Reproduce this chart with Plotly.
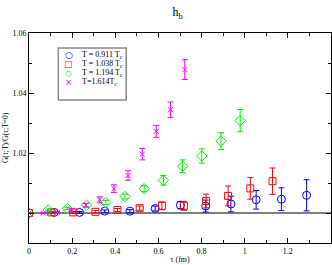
import plotly.graph_objects as go

# ---- data ----
tau_0911 = [0.0, 0.117, 0.234, 0.351, 0.468, 0.585, 0.702, 0.819, 0.936, 1.053, 1.170, 1.287]
g_0911 = [1.0, 1.0002, 1.0002, 1.0006, 1.0006, 1.0015, 1.0026, 1.0023, 1.0030, 1.0044, 1.0046, 1.0059]
e_0911 = [0.0, 0.0002, 0.0003, 0.0004, 0.0005, 0.0008, 0.0012, 0.0020, 0.0026, 0.0031, 0.0038, 0.0052]

tau_1038 = [0.0, 0.103, 0.205, 0.308, 0.410, 0.513, 0.616, 0.718, 0.821, 0.923, 1.026, 1.129]
g_1038 = [1.0, 1.0002, 1.0002, 1.0004, 1.0010, 1.0016, 1.0024, 1.0024, 1.0040, 1.0057, 1.0082, 1.0106]
e_1038 = [0.0, 0.0002, 0.0003, 0.0004, 0.0005, 0.0007, 0.0013, 0.0015, 0.0023, 0.0033, 0.0036, 0.0044]

tau_1194 = [0.0, 0.089, 0.178, 0.267, 0.356, 0.445, 0.534, 0.623, 0.712, 0.801, 0.890, 0.979]
g_1194 = [1.0, 1.0010, 1.0015, 1.0026, 1.0035, 1.0055, 1.0081, 1.0109, 1.0156, 1.0190, 1.0240, 1.0308]
e_1194 = [0.0, 0.0003, 0.0004, 0.0006, 0.0007, 0.0008, 0.0010, 0.0016, 0.0021, 0.0024, 0.0028, 0.0037]

tau_1614 = [0.0, 0.066, 0.131, 0.197, 0.263, 0.328, 0.394, 0.459, 0.525, 0.590, 0.656, 0.722]
g_1614 = [1.0, 1.0000, 1.0002, 1.0010, 1.0026, 1.0044, 1.0081, 1.0125, 1.0196, 1.0272, 1.0344, 1.0478]
e_1614 = [0.0, 0.0002, 0.0003, 0.0004, 0.0006, 0.0010, 0.0013, 0.0016, 0.0019, 0.0020, 0.0026, 0.0033]

legend_labels = ["T = 0.911 T<sub>c</sub>", "T = 1.038 T<sub>c</sub>",
                 "T = 1.194 T<sub>c</sub>", "T=1.614T<sub>c</sub>"]
legend_glyphs = ["○", "□", "◇", "×"]

x_ticks = [0, 0.2, 0.4, 0.6, 0.8, 1.0, 1.2]
x_ticktext = ["0", "0.2", "0.4", "0.6", "0.8", "1", "1.2"]
y_ticks = [1.00, 1.02, 1.04, 1.06]
y_ticktext = ["", "1.02", "1.04", "1.06"]

colors = ["#0000ff", "#ff0000", "#00ee00", "#ff00ff"]
symbols = ["circle-open", "square-open", "diamond-open", "x-thin-open"]
sizes = [8, 7, 8, 5]

series = [(tau_0911, g_0911, e_0911), (tau_1038, g_1038, e_1038),
          (tau_1194, g_1194, e_1194), (tau_1614, g_1614, e_1614)]

FONT = "Liberation Serif"
fig = go.Figure()
for (x, y, e), c, s, sz in zip(series, colors, symbols, sizes):
    fig.add_trace(go.Scatter(
        x=x, y=y, mode="markers",
        marker=dict(symbol=s, size=sz, color=c, line=dict(color=c, width=1)),
        error_y=dict(type="data", array=e, visible=True, color=c, thickness=1, width=3),
        showlegend=False,
    ))

# horizontal reference line at 1
fig.add_shape(type="line", xref="paper", x0=0, x1=1, yref="y", y0=1, y1=1,
              line=dict(color="black", width=1), layer="below")

# legend box
fig.add_shape(type="rect", xref="paper", yref="paper", x0=0.097, x1=0.322, y0=0.681, y1=0.929,
              line=dict(color="#888888", width=1.5), fillcolor="white", layer="above")
row_y = [0.895, 0.853, 0.811, 0.769]
for g, lab, c, yy in zip(legend_glyphs, legend_labels, colors, row_y):
    fig.add_annotation(xref="paper", yref="paper", x=0.131, y=yy, text=g, showarrow=False,
                       font=dict(family="DejaVu Sans", size=9, color=c), xanchor="center", yanchor="middle")
    fig.add_annotation(xref="paper", yref="paper", x=0.168, y=yy, text=lab, showarrow=False,
                       font=dict(family=FONT, size=8, color="black"), xanchor="left", yanchor="middle")

fig.update_layout(
    width=332, height=265,
    margin=dict(l=29, r=1, t=33, b=22),
    paper_bgcolor="white", plot_bgcolor="white",
    font=dict(family=FONT, size=8, color="black"),
    title=dict(text="h<sub>b</sub>", x=0.535, xanchor="center", y=0.955, yanchor="middle",
               font=dict(family=FONT, size=12, color="black")),
    xaxis=dict(range=[0, 1.4], tickmode="array", tickvals=x_ticks, ticktext=x_ticktext,
               ticks="inside", ticklen=5, tickcolor="black", showline=True, linecolor="black",
               linewidth=1, mirror="allticks", showgrid=False, zeroline=False,
               minor=dict(tickmode="linear", tick0=0.1, dtick=0.2, ticks="inside", ticklen=3,
                          tickcolor="black", showgrid=False),
               title=dict(text="τ (fm)", font=dict(family=FONT, size=8), standoff=1),
               tickfont=dict(family=FONT, size=8)),
    yaxis=dict(range=[0.99, 1.06], tickmode="array", tickvals=y_ticks, ticktext=y_ticktext,
               ticks="inside", ticklen=5, tickcolor="black", showline=True, linecolor="black",
               linewidth=1, mirror="allticks", showgrid=False, zeroline=False,
               minor=dict(tickmode="array", tickvals=[1.01, 1.03, 1.05], ticks="inside", ticklen=3,
                          tickcolor="black", showgrid=False),
               title=dict(text="G(τ;T)/G(τ;T=0)", font=dict(family=FONT, size=7.5), standoff=2),
               tickfont=dict(family=FONT, size=8)),
)

fig.write_html("out.html", config={"displayModeBar": False},
               post_script="document.body.style.margin='0';document.body.style.overflow='hidden';")
